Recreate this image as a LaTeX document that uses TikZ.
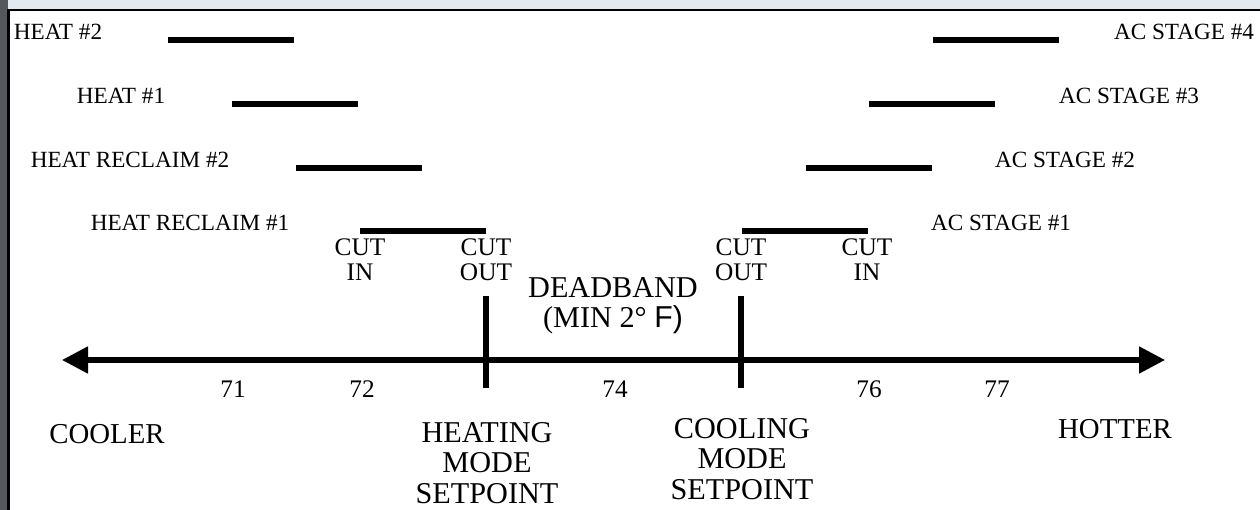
\documentclass[tikz,border=0pt]{standalone}
\usepackage{fontspec}
\setmainfont{Liberation Serif}
\setsansfont{Liberation Sans}
\usetikzlibrary{arrows.meta}
\definecolor{wmark}{RGB}{226,233,240}
\definecolor{sidebar}{RGB}{84,88,93}
\tikzset{
  stagebar/.style={line width=4pt},
  stagelbl/.style={anchor=base,inner sep=0pt,font=\fontsize{16.5}{18}\selectfont},
  cutlbl/.style={anchor=north,inner sep=0pt,align=center,font=\fontsize{18}{17.8}\selectfont},
  numlbl/.style={anchor=base,inner sep=0pt,font=\fontsize{18}{20}\selectfont},
  biglbl/.style={anchor=north,inner sep=0pt,align=center,font=\fontsize{21.5}{21.8}\selectfont},
  setpt/.style={line width=3.6pt}
}
\begin{document}
\begin{tikzpicture}[x=0.025cm,y=-0.025cm]
    \useasboundingbox (0,0) rectangle (1260,510);
    % frame
    \fill[wmark] (0,0) rectangle (1260,10);
    \fill[sidebar] (0,0) rectangle (8,510);
    \fill[white] (8,10) rectangle (1260,510);
    \draw[line width=2pt] (8.5,510) -- (8.5,10) -- (1260,10);
    % heating and cooling stages
    \foreach \name/\txt/\lx/\bx/\y in {
        heatB/HEAT \#2/58/168/40, heatA/HEAT \#1/121/232/104,
        reclB/HEAT RECLAIM \#2/130/296/168, reclA/HEAT RECLAIM \#1/190/360/231,
        acD/AC STAGE \#4/1184/933/40, acC/AC STAGE \#3/1129/869/104,
        acB/AC STAGE \#2/1065/806/168, acA/AC STAGE \#1/1001/742/231}{
        \node[stagelbl] (\name) at (\lx,\y) {\txt};
        \coordinate (\name-in) at (\bx,\y);
        \coordinate (\name-out) at (\bx+126,\y);
        \draw[stagebar] (\name-in) -- (\name-out);
    }
    \node[cutlbl] (hcutin) at (360,238) {CUT\\IN};
    \node[cutlbl] (hcutout) at (486,238) {CUT\\OUT};
    \node[cutlbl] (ccutout) at (741,238) {CUT\\OUT};
    \node[cutlbl] (ccutin) at (867,238) {CUT\\IN};
    % temperature axis
    \coordinate (cold) at (62,360);
    \coordinate (hot) at (1165,360);
    \draw[line width=3.6pt,{Triangle[length=0.65cm,width=0.65cm]}-{Triangle[length=0.65cm,width=0.65cm]}]
        (cold) -- (hot);
    \coordinate (hsp-top) at (486,296);
    \coordinate (hsp-bot) at (486,388);
    \coordinate (csp-top) at (741,296);
    \coordinate (csp-bot) at (741,388);
    \draw[setpt] (hsp-top) -- (hsp-bot);
    \draw[setpt] (csp-top) -- (csp-bot);
    \node[biglbl] (deadband) at (613,277) {DEADBAND\\(MIN 2° {\sffamily F)}};
    \foreach \t/\x in {71/233,72/362,74/615,76/869,77/997}
        \node[numlbl] (t\t) at (\x,397) {\t};
    \node[anchor=base,inner sep=0pt,font=\fontsize{20.5}{22}\selectfont] (cooler) at (107,443) {COOLER};
    \node[anchor=base,inner sep=0pt,font=\fontsize{20.5}{22}\selectfont] (hotter) at (1115,438) {HOTTER};
    \node[biglbl] (heatsp) at (487,422) {HEATING\\MODE\\SETPOINT};
    \node[biglbl] (coolsp) at (742,418) {COOLING\\MODE\\SETPOINT};
\end{tikzpicture}
\end{document}
